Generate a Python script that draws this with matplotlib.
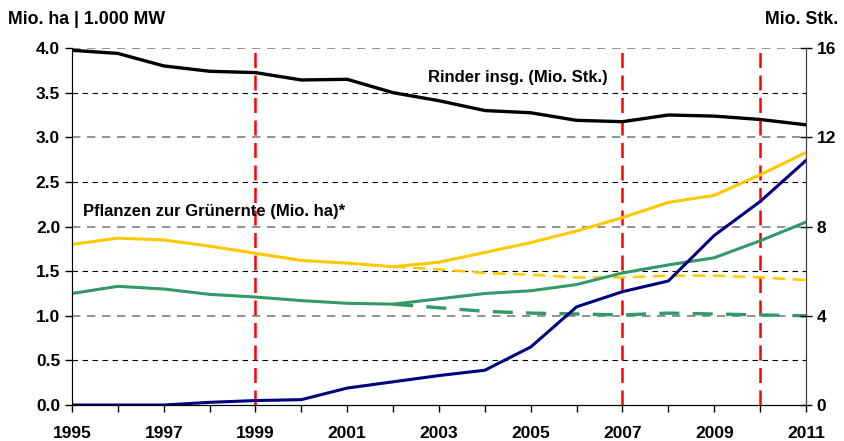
import numpy as np
import matplotlib
matplotlib.use("Agg")
from matplotlib import pyplot as plt

plt.rcParams['font.family'] = ['Liberation Sans', 'DejaVu Sans']

years = list(range(1995, 2012))

# Rinder insg. (Mio. Stk., rechte Achse)
rinder = [15.9, 15.76, 15.2, 14.96, 14.9, 14.57, 14.6, 14.0, 13.64, 13.2,
          13.1, 12.76, 12.7, 13.0, 12.95, 12.8, 12.56]
# Pflanzen zur Gruenernte (Mio. ha)
gruen_gelb = [1.80, 1.87, 1.85, 1.78, 1.70, 1.62, 1.59, 1.55, 1.60, 1.71,
              1.82, 1.95, 2.10, 2.27, 2.35, 2.58, 2.83]
gelb_trend = [1.55, 1.52, 1.48, 1.46, 1.43, 1.43, 1.45, 1.45, 1.43, 1.40]
gruen = [1.25, 1.33, 1.30, 1.24, 1.21, 1.17, 1.14, 1.13, 1.19, 1.25,
         1.28, 1.35, 1.48, 1.57, 1.65, 1.84, 2.05]
gruen_trend = [1.13, 1.09, 1.05, 1.03, 1.02, 1.01, 1.03, 1.02, 1.01, 1.00]
# 1.000 MW
mw = [0, 0, 0, 0.03, 0.05, 0.06, 0.19, 0.26, 0.33, 0.39,
      0.65, 1.10, 1.27, 1.39, 1.90, 2.28, 2.74]
trend_years = years[7:]
marker_years = [1999, 2007, 2010]

fig = plt.figure(figsize=(8.45, 4.41), dpi=100)
ax = fig.add_axes([0.0852, 0.0816, 0.8686, 0.8094])
ax2 = ax.twinx()

# grid lines
for v in [1.0, 2.0, 3.0, 4.0]:
    ax.axhline(v, color='#808080', ls=(0, (5, 4)), lw=1.2, zorder=1)
for v in [0.5, 1.5, 2.5, 3.5]:
    ax.axhline(v, color='black', ls=(0, (5, 4)), lw=0.8, zorder=1)

for y in marker_years:
    ax.axvline(y, color='#FF0000', ls=(0, (6, 3)), lw=1.8, zorder=2)

ax.plot(years, gruen_gelb, color='#FFC800', lw=2.2, zorder=3)
ax.plot(trend_years, gelb_trend, color='#FFC800', lw=1.8, ls=(0, (5, 3)), zorder=3)
ax.plot(years, gruen, color='#339966', lw=2.2, zorder=3)
ax.plot(trend_years, gruen_trend, color='#339966', lw=2.4, ls=(0, (6, 4)), zorder=3)
ax.plot(years, mw, color='#000080', lw=2.2, zorder=4)
ax2.plot(years, rinder, color='black', lw=2.4, zorder=4)

ax.set_xlim(1995, 2011)
ax.set_ylim(0, 4)
ax2.set_ylim(0, 16)
ax.set_xticks(years)
ax.set_xticklabels([str(y) if y % 2 == 1 else '' for y in years])
ax.set_yticks(np.arange(0, 4.01, 0.5))
ax.set_yticklabels(['%.1f' % v for v in np.arange(0, 4.01, 0.5)])
ax2.set_yticks([0, 4, 8, 12, 16])

for a in (ax, ax2):
    a.spines['top'].set_visible(False)
    a.tick_params(labelsize=12.5, width=1, length=5, colors='black')
    for lab in a.get_xticklabels() + a.get_yticklabels():
        lab.set_fontweight('bold')
ax.spines['left'].set_color('#404040')
ax2.spines['right'].set_color('#404040')
ax2.tick_params(axis='y', direction='inout', length=8)
ax.tick_params(axis='x', pad=10)

ax.text(2004.71, 3.67, 'Rinder insg. (Mio. Stk.)', fontsize=12, fontweight='bold',
        ha='center', va='center', zorder=5)
ax.text(1995.24, 2.17, 'Pflanzen zur Grünernte (Mio. ha)*', fontsize=12, fontweight='bold',
        ha='left', va='center', zorder=5)

fig.text(8 / 845, 1 - 20 / 441, 'Mio. ha | 1.000 MW', fontsize=12.8, fontweight='bold',
         ha='left', va='center')
fig.text(838 / 845, 1 - 20 / 441, 'Mio. Stk.', fontsize=12.8, fontweight='bold',
         ha='right', va='center')

fig.savefig('out.png', dpi=100)
